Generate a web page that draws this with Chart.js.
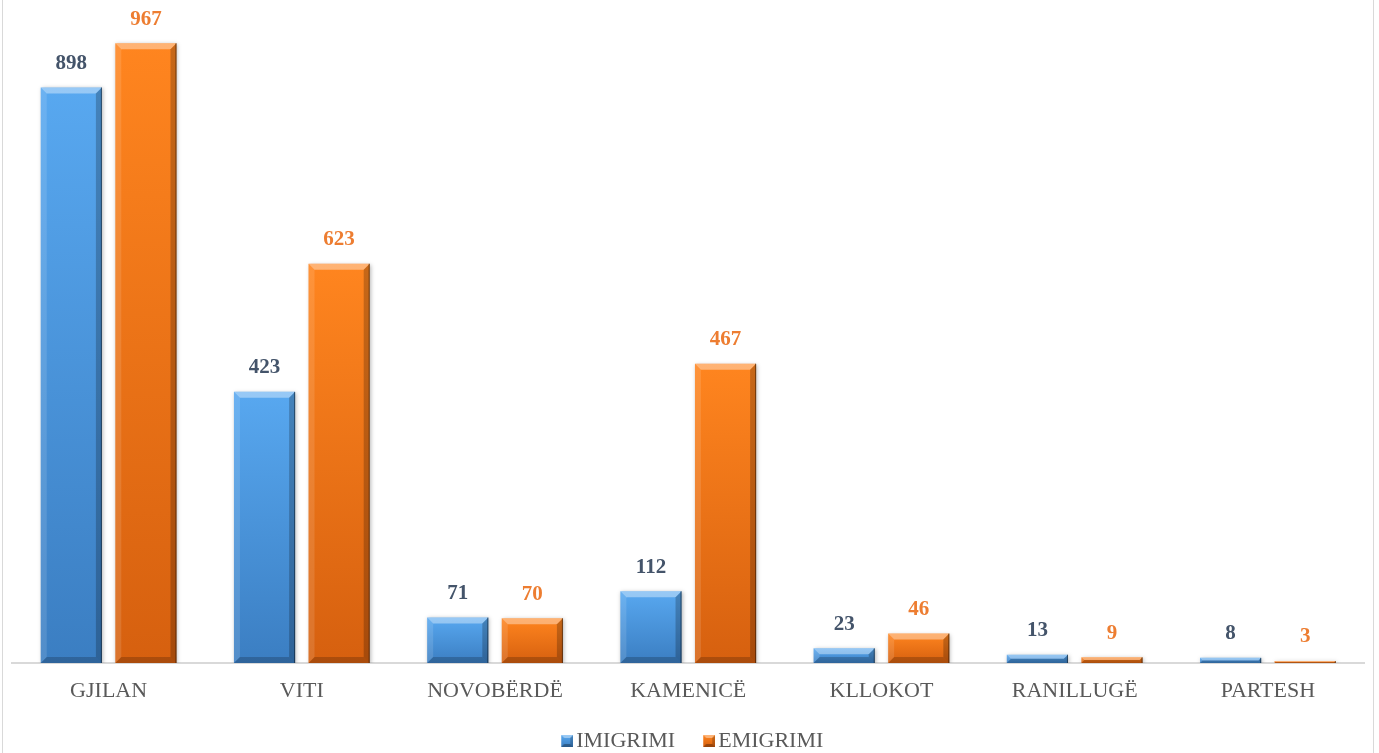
<!DOCTYPE html>
<html><head><meta charset="utf-8">
<script src="https://cdn.jsdelivr.net/npm/chart.js@4"></script>
<style>
html,body{margin:0;padding:0;background:#fff;}
#wrap{position:relative;width:1379px;height:753px;overflow:hidden;}
#frame{position:absolute;left:2px;top:0;width:1370px;height:753px;border-left:1px solid #d9d9d9;border-right:1px solid #d9d9d9;pointer-events:none;}
</style></head><body>
<div id="wrap"><canvas id="c" width="1379" height="753"></canvas><div id="frame"></div></div>
<script>
const categories = ['GJILAN','VITI','NOVOBËRDË','KAMENICË','KLLOKOT','RANILLUGË','PARTESH'];
const imigrimi = [898, 423, 71, 112, 23, 13, 8];
const emigrimi = [967, 623, 70, 467, 46, 9, 3];
const seriesNames = ['IMIGRIMI', 'EMIGRIMI'];
const yMax = 1000;

const FONT = "'Liberation Serif', 'Times New Roman', serif";
const palette = [
  {top:'#58a8f0', bottom:'#3b7ec2', label:'#44546a'},
  {top:'#ff851f', bottom:'#d6600f', label:'#ed7d31'}
];

function barGradient(ctx, idx) {
  const chart = ctx.chart;
  const y = chart.scales && chart.scales.y;
  if (!y || ctx.type !== 'data') return palette[idx].top;
  const top = y.getPixelForValue(ctx.raw);
  const base = y.getPixelForValue(0);
  if (!isFinite(top) || !isFinite(base)) return palette[idx].top;
  const g = chart.ctx.createLinearGradient(0, top, 0, Math.max(base, top + 1));
  g.addColorStop(0, palette[idx].top);
  g.addColorStop(1, palette[idx].bottom);
  return g;
}

function legendMarker(idx) {
  const c = document.createElement('canvas');
  c.width = 28; c.height = 12;
  const x = c.getContext('2d');
  const l = 16, t = 0, r = 28, b = 12, s = 3;
  const g = x.createLinearGradient(0, 0, 0, 12);
  g.addColorStop(0, palette[idx].top);
  g.addColorStop(1, palette[idx].bottom);
  x.fillStyle = g; x.fillRect(l, t, r - l, b - t);
  x.fillStyle = 'rgba(255,255,255,0.4)';
  x.beginPath(); x.moveTo(l,t); x.lineTo(r,t); x.lineTo(r-s,t+s); x.lineTo(l+s,t+s); x.closePath(); x.fill();
  x.fillStyle = 'rgba(0,0,0,0.3)';
  x.beginPath(); x.moveTo(l,b); x.lineTo(r,b); x.lineTo(r-s,b-s); x.lineTo(l+s,b-s); x.closePath(); x.fill();
  x.fillStyle = 'rgba(0,0,0,0.2)';
  x.beginPath(); x.moveTo(r,t); x.lineTo(r,b); x.lineTo(r-s,b-s); x.lineTo(r-s,t+s); x.closePath(); x.fill();
  return c;
}
const markers = [legendMarker(0), legendMarker(1)];

const bevelPlugin = {
  id: 'bevel',
  beforeDatasetsDraw(chart) {
    const c = chart.ctx;
    c.save();
    c.shadowColor = 'rgba(0,0,0,0.28)';
    c.shadowBlur = 4;
    c.shadowOffsetX = 1;
    c.shadowOffsetY = 1;
  },
  afterDatasetsDraw(chart) {
    const c = chart.ctx;
    c.restore();
    chart.data.datasets.forEach((ds, di) => {
      const meta = chart.getDatasetMeta(di);
      meta.data.forEach((el, i) => {
        const p = el.getProps(['x','y','base','width'], true);
        const l = p.x - p.width/2, r = p.x + p.width/2, t = p.y, b = p.base;
        const h = b - t;
        const s = Math.min(6, h/2, p.width/2);
        c.save();
        c.fillStyle = 'rgba(255,255,255,0.38)';
        c.beginPath(); c.moveTo(l,t); c.lineTo(r,t); c.lineTo(r-s,t+s); c.lineTo(l+s,t+s); c.closePath(); c.fill();
        c.fillStyle = 'rgba(255,255,255,0.12)';
        c.beginPath(); c.moveTo(l,t); c.lineTo(l+s,t+s); c.lineTo(l+s,b-s); c.lineTo(l,b); c.closePath(); c.fill();
        c.fillStyle = 'rgba(0,0,0,0.22)';
        c.beginPath(); c.moveTo(r,t); c.lineTo(r,b); c.lineTo(r-s,b-s); c.lineTo(r-s,t+s); c.closePath(); c.fill();
        c.fillStyle = 'rgba(0,0,0,0.2)';
        c.beginPath(); c.moveTo(l,b); c.lineTo(r,b); c.lineTo(r-s,b-s); c.lineTo(l+s,b-s); c.closePath(); c.fill();
        c.fillStyle = 'rgba(0,0,0,0.45)';
        c.fillRect(r-1, t, 1, h);
        c.restore();
        c.save();
        c.font = 'bold 21px ' + FONT;
        c.fillStyle = palette[di].label;
        c.textAlign = 'center';
        c.textBaseline = 'middle';
        c.fillText(String(ds.data[i]), p.x, t - 24);
        c.restore();
      });
    });
  }
};

new Chart(document.getElementById('c'), {
  type: 'bar',
  data: {
    labels: categories,
    datasets: [
      {label: seriesNames[0], data: imigrimi, backgroundColor: ctx => barGradient(ctx, 0),
       categoryPercentage: 0.772, barPercentage: 0.82},
      {label: seriesNames[1], data: emigrimi, backgroundColor: ctx => barGradient(ctx, 1),
       categoryPercentage: 0.772, barPercentage: 0.82}
    ]
  },
  options: {
    responsive: false,
    animation: false,
    devicePixelRatio: 1,
    layout: {padding: {left: 12, right: 14.5, top: 22, bottom: -9}},
    scales: {
      x: {
        grid: {display: false, drawTicks: false},
        border: {display: true, color: '#d9d9d9', width: 2},
        ticks: {font: {family: FONT, size: 22}, color: '#595959', padding: 15},
        afterFit(scale) { scale.height = 47; }
      },
      y: {display: false, min: 0, max: yMax}
    },
    plugins: {
      legend: {
        position: 'bottom',
        labels: {
          font: {family: FONT, size: 22},
          color: '#595959',
          usePointStyle: true,
          boxWidth: 12, boxHeight: 12,
          padding: 20,
          generateLabels(chart) {
            const items = Chart.defaults.plugins.legend.labels.generateLabels(chart);
            items.forEach((it, i) => { it.pointStyle = markers[i]; it.fontColor = '#595959'; });
            return items;
          }
        }
      },
      tooltip: {enabled: false}
    }
  },
  plugins: [bevelPlugin]
});
</script>
</body></html>
